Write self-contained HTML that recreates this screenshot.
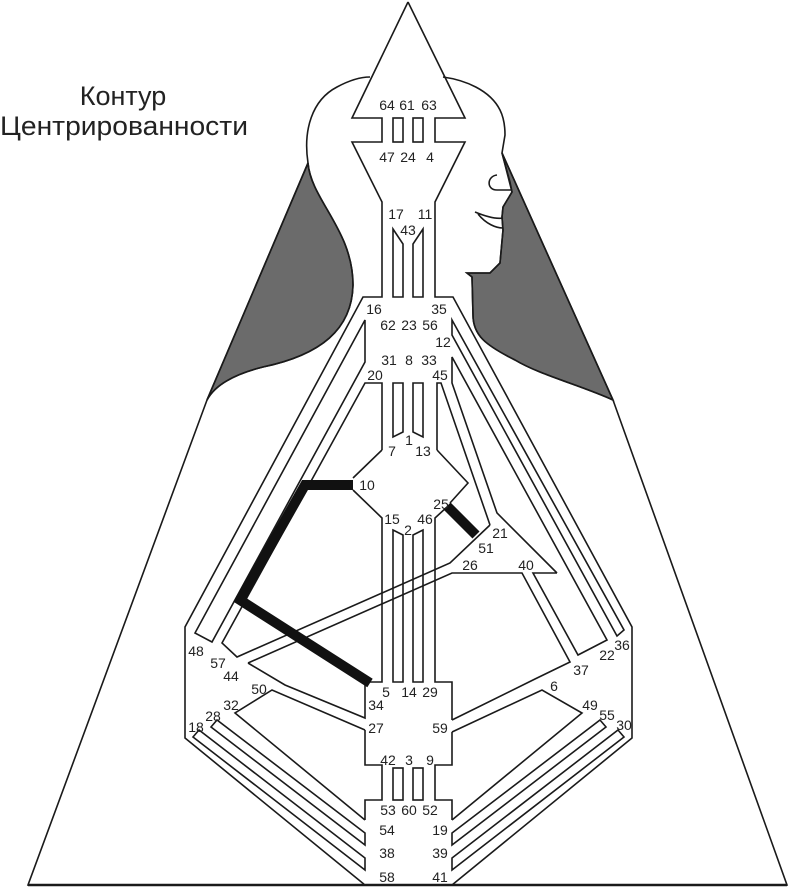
<!DOCTYPE html>
<html><head><meta charset="utf-8"><style>
html,body{margin:0;padding:0;background:#fff;}
svg{display:block;}
text{font-family:"Liberation Sans",sans-serif;fill:#222;}
.n{font-size:14px;text-anchor:middle;}
</style></head><body>
<svg width="790" height="887" viewBox="0 0 790 887" xmlns="http://www.w3.org/2000/svg">
<g fill="none" stroke="#1a1a1a" stroke-width="1.6" stroke-linejoin="miter">
<path d="M308,163 C311,200 353,230 353,285 C352,330 320,355 263,367 C235,374 215,385 207,400 L308,163 Z" fill="#6b6b6b"/>
<path d="M502,153 L613,400 C580,385 540,375 515,360 C485,345 473,335 473,315 L472,277 L467,273 L490,273 L500,263 L503,230 L502,217 L503,207 L512,192 L510,182 Z" fill="#6b6b6b"/>
<path d="M308,163 L207,400 L28,885 L787,885 L613,400 L502,153"/>
<path d="M28,885 L787,885" stroke-width="2.5"/>
<path d="M207,400 C215,385 235,374 263,367 C320,355 352,330 353,285 C353,230 311,200 308,163 C303,130 312,100 337,87 C350,80 360,77 370,77" />
<path d="M443,77 C465,80 490,90 500,110 C505,120 505,130 505,135 L502,153 L512,192 L503,207 L502,217 L503,230 L500,263 L490,273 L467,273 L472,277 L473,315 C473,335 485,345 515,360 C540,375 580,385 613,400"/>
<path d="M497,175 C487,176 486,190 497,190 L511,190"/>
<path d="M475,212 C487,217 497,219 503,218 M478,214 C486,224 496,228 503,228"/>
<path d="M408,2 L352,118 L382,118 L382,142 L352,142 L382,202 L382,297 L363,297 L185,627 L185,738 L365,885" fill="#fff"/>
<path d="M408,2 L465,118 L435,118 L435,142 L465,142 L435,202 L435,297 L453,297 L632,627 L632,738 L452,885"/>
<rect x="393" y="118" width="10" height="24"/>
<rect x="413" y="118" width="10" height="24"/>
<path d="M393,229 L403,244 L403,297 L393,297 Z M423,229 L413,244 L413,297 L423,297 Z"/>
<path d="M365,320 L365,362 L212,642 L195,633 Z"/>
<path d="M382,450 L382,383 L365,383 L222,643 L237,657 L450,563 L490,525"/>
<path d="M248,663 L452,573 L522,573 L570,662 L535,679 L452,720"/>
<path d="M557,573 L533,573 L578,655 L607,640 L452,357 L452,383 L497,513 L557,573"/>
<path d="M452,320 L624,630 L617,636 L452,335 Z"/>
<path d="M437,450 L437,383 L441,383 L490,525"/>
<path d="M393,383 L403,383 L403,432 L393,437 Z M423,383 L413,383 L413,432 L423,437 Z"/>
<path d="M382,450 L353,478 M353,490 L382,518 L382,682 L365,682 L365,718 L285,685 L248,663"/>
<path d="M437,450 L468,483 L450,503 M447,507 L435,518 L435,682 L452,682 L452,720"/>
<path d="M393,530 L403,535 L403,682 L393,682 Z M423,530 L413,535 L413,682 L423,682 Z"/>
<path d="M365,730 L272,690 L235,713 L365,820"/>
<path d="M365,730 L365,765 L382,765 L382,800 L365,800 L365,820"/>
<path d="M452,732 L542,690 L582,713 L452,820"/>
<path d="M452,732 L452,765 L435,765 L435,800 L452,800 L452,820"/>
<rect x="393" y="768" width="10" height="32"/>
<rect x="413" y="768" width="10" height="32"/>
<path d="M217,720 L211,727 L365,845 L365,833 Z"/>
<path d="M199,730 L193,737 L365,870 L365,858 Z"/>
<path d="M600,720 L606,727 L452,845 L452,833 Z"/>
<path d="M618,730 L624,737 L452,870 L452,858 Z"/>
</g>
<path d="M353,485 L305,485 L240,600 L370,683" fill="none" stroke="#111" stroke-width="10" stroke-linejoin="miter"/>
<path d="M447,506 L476,535" fill="none" stroke="#111" stroke-width="10"/>
<text x="123" y="105" font-size="27" text-anchor="middle">Контур</text>
<text x="0" y="135" font-size="27" textLength="248" lengthAdjust="spacingAndGlyphs">Центрированности</text>
<g class="n">
<text class="n" x="387" y="110">64</text><text class="n" x="407" y="110">61</text><text class="n" x="429" y="110">63</text>
<text class="n" x="387" y="162">47</text><text class="n" x="408" y="162">24</text><text class="n" x="430" y="162">4</text>
<text class="n" x="396" y="219">17</text><text class="n" x="425" y="219">11</text><text class="n" x="408" y="235">43</text>
<text class="n" x="374" y="314">16</text><text class="n" x="439" y="314">35</text>
<text class="n" x="388" y="330">62</text><text class="n" x="409" y="330">23</text><text class="n" x="430" y="330">56</text>
<text class="n" x="443" y="347">12</text>
<text class="n" x="389" y="365">31</text><text class="n" x="409" y="365">8</text><text class="n" x="429" y="365">33</text>
<text class="n" x="375" y="380">20</text><text class="n" x="440" y="380">45</text>
<text class="n" x="409" y="445">1</text><text class="n" x="392" y="456">7</text><text class="n" x="423" y="456">13</text>
<text class="n" x="367" y="490">10</text><text class="n" x="441" y="509">25</text>
<text class="n" x="392" y="524">15</text><text class="n" x="425" y="524">46</text><text class="n" x="408" y="535">2</text>
<text class="n" x="500" y="538">21</text><text class="n" x="486" y="553">51</text>
<text class="n" x="470" y="570">26</text><text class="n" x="526" y="570">40</text>
<text class="n" x="196" y="656">48</text><text class="n" x="218" y="668">57</text><text class="n" x="231" y="681">44</text>
<text class="n" x="259" y="694">50</text><text class="n" x="231" y="710">32</text><text class="n" x="213" y="721">28</text><text class="n" x="196" y="732">18</text>
<text class="n" x="386" y="697">5</text><text class="n" x="409" y="697">14</text><text class="n" x="430" y="697">29</text>
<text class="n" x="376" y="710">34</text><text class="n" x="376" y="733">27</text><text class="n" x="440" y="733">59</text>
<text class="n" x="554" y="691">6</text><text class="n" x="581" y="675">37</text><text class="n" x="607" y="660">22</text><text class="n" x="622" y="650">36</text>
<text class="n" x="590" y="710">49</text><text class="n" x="607" y="720">55</text><text class="n" x="624" y="730">30</text>
<text class="n" x="388" y="765">42</text><text class="n" x="409" y="765">3</text><text class="n" x="430" y="765">9</text>
<text class="n" x="388" y="815">53</text><text class="n" x="409" y="815">60</text><text class="n" x="430" y="815">52</text>
<text class="n" x="387" y="835">54</text><text class="n" x="440" y="835">19</text>
<text class="n" x="387" y="858">38</text><text class="n" x="440" y="858">39</text>
<text class="n" x="387" y="882">58</text><text class="n" x="440" y="882">41</text>
</g>
</svg>
</body></html>
